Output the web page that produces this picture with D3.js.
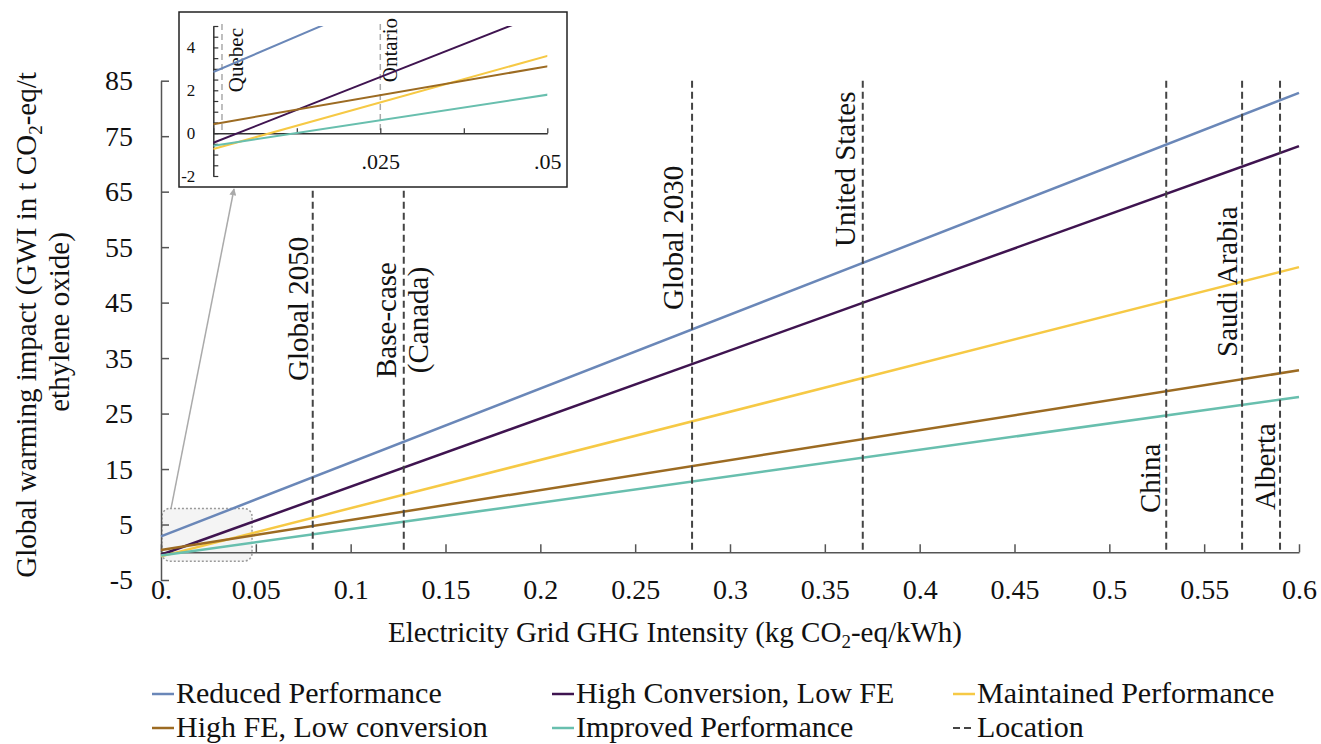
<!DOCTYPE html>
<html>
<head>
<meta charset="utf-8">
<script src="https://cdn.jsdelivr.net/npm/d3@7"></script>
<style>
  html, body { margin: 0; padding: 0; background: #fff; }
  svg { display: block; }
  text { font-family: "Liberation Serif", "Times New Roman", serif; fill: #111; }
</style>
</head>
<body>
<svg id="chart" width="1321" height="744"></svg>
<script>
// ---------------- DATA ----------------
const gridIntensity = [0, 0.6];                 // kg CO2-eq/kWh (line endpoints)
const seriesNames = ["Reduced Performance", "High Conversion, Low FE", "Maintained Performance",
                     "High FE, Low conversion", "Improved Performance"];
const reducedPerformance   = [2.85, 82.8];
const highConvLowFE        = [-0.45, 73.2];
const maintainedPerformance= [-0.74, 51.4];
const highFELowConversion  = [0.42, 32.8];
const improvedPerformance  = [-0.59, 28.0];
const seriesValues = [reducedPerformance, highConvLowFE, maintainedPerformance, highFELowConversion, improvedPerformance];

const locationNames = ["Global 2050", "Base-case (Canada)", "Global 2030", "United States", "China", "Saudi Arabia", "Alberta"];
const locationIntensity = [0.08, 0.128, 0.28, 0.37, 0.53, 0.57, 0.59];
const insetLocationNames = ["Quebec", "Ontario"];
const insetLocationIntensity = [0.0013, 0.025];

const xTicks = [0, 0.05, 0.1, 0.15, 0.2, 0.25, 0.3, 0.35, 0.4, 0.45, 0.5, 0.55, 0.6];
const xTickLabels = ["0.", "0.05", "0.1", "0.15", "0.2", "0.25", "0.3", "0.35", "0.4", "0.45", "0.5", "0.55", "0.6"];
const yTicks = [-5, 5, 15, 25, 35, 45, 55, 65, 75, 85];
const yTickLabels = ["-5", "5", "15", "25", "35", "45", "55", "65", "75", "85"];
const insetXTicks = [0, 0.0125, 0.025, 0.0375, 0.05];
const insetXTickLabels = ["", "", ".025", "", ".05"];
const insetYTicks = [-2, -1.5, -1, -0.5, 0, 0.5, 1, 1.5, 2, 2.5, 3, 3.5, 4, 4.5, 5];
const insetYLabelled = [-2, 0, 2, 4];

// ---------------- STYLE / LAYOUT ----------------
const colors = ["#6a87b8", "#3f1450", "#f6c945", "#9c6b22", "#68bfae"];
const locColor = "#444";
const svg = d3.select("#chart");

const x = d3.scaleLinear().domain([0, 0.6]).range([161, 1299]);
const y = d3.scaleLinear().domain([-5, 85]).range([580, 80.7]);

// label layout for locations: bottom y (px) of rotated text and baseline offset from line
const locLayout = {
  "Global 2050":   { bottom: 381, dx: -5 },
  "Global 2030":   { bottom: 310, dx: -9 },
  "United States": { bottom: 247, dx: -8 },
  "China":         { bottom: 513, dx: -6 },
  "Saudi Arabia":  { bottom: 357, dx: -5 },
  "Alberta":       { bottom: 510, dx: -5 }
};

// ---------------- ZOOM RECT ----------------
svg.append("rect")
  .attr("x", x(0.0005)).attr("y", y(7.9))
  .attr("width", x(0.048) - x(0.0005)).attr("height", y(-1.6) - y(7.9))
  .attr("rx", 8).attr("ry", 8)
  .attr("fill", "#ececec").attr("fill-opacity", 0.6)
  .attr("stroke", "#9a9a9a").attr("stroke-width", 1.5).attr("stroke-dasharray", "2,2");

// ---------------- AXES ----------------
const xAxis = d3.axisBottom(x).tickValues(xTicks).tickFormat((d, i) => xTickLabels[i])
  .tickSizeInner(-8).tickSizeOuter(0).tickPadding(27);
const gx = svg.append("g").attr("transform", `translate(0,${y(0)})`).call(xAxis);
const yAxis = d3.axisLeft(y).tickValues(yTicks).tickFormat((d, i) => yTickLabels[i])
  .tickSizeInner(-8).tickSizeOuter(0).tickPadding(28);
const gy = svg.append("g").attr("transform", `translate(${x(0)},0)`).call(yAxis);
[gx, gy].forEach(g => {
  g.select(".domain").attr("stroke", "#555").attr("stroke-width", 1.5);
  g.selectAll(".tick line").attr("stroke", "#555").attr("stroke-width", 1.5);
  g.selectAll(".tick text").attr("font-family", "Liberation Serif").attr("font-size", 28).attr("fill", "#111");
});

// ---------------- LINES ----------------
const line = d3.line().x(d => x(d[0])).y(d => y(d[1]));
seriesValues.forEach((vals, i) => {
  svg.append("path")
    .datum(gridIntensity.map((g, j) => [g, vals[j]]))
    .attr("d", line).attr("fill", "none")
    .attr("stroke", colors[i]).attr("stroke-width", 2.5);
});

// ---------------- LOCATION LINES ----------------
locationIntensity.forEach((v, i) => {
  svg.append("line")
    .attr("x1", x(v)).attr("x2", x(v)).attr("y1", y(85)).attr("y2", y(0))
    .attr("stroke", locColor).attr("stroke-width", 2).attr("stroke-dasharray", "7,4");
  const name = locationNames[i];
  if (name === "Base-case (Canada)") {
    svg.append("text").attr("font-size", 29).attr("text-anchor", "middle")
      .attr("transform", `translate(${x(v) - 8},320) rotate(-90)`).text("Base-case");
    svg.append("text").attr("font-size", 29).attr("text-anchor", "middle")
      .attr("transform", `translate(${x(v) + 24},320) rotate(-90)`).text("(Canada)");
  } else {
    const L = locLayout[name];
    svg.append("text").attr("font-size", 29).attr("text-anchor", "start")
      .attr("transform", `translate(${x(v) + L.dx},${L.bottom}) rotate(-90)`).text(name);
  }
});

// ---------------- AXIS TITLES ----------------
const yt1 = svg.append("text").attr("font-size", 29).attr("text-anchor", "middle")
  .attr("transform", "translate(36,325) rotate(-90)");
yt1.append("tspan").text("Global warming impact (GWI in t CO");
yt1.append("tspan").attr("font-size", 19).attr("dy", 6).text("2");
yt1.append("tspan").attr("dy", -6).text("-eq/t");
svg.append("text").attr("font-size", 29).attr("text-anchor", "middle")
  .attr("transform", "translate(69,322) rotate(-90)").text("ethylene oxide)");

const xt = svg.append("text").attr("font-size", 29).attr("text-anchor", "middle")
  .attr("x", 675).attr("y", 642);
xt.append("tspan").text("Electricity Grid GHG Intensity (kg CO");
xt.append("tspan").attr("font-size", 19).attr("dy", 6).text("2");
xt.append("tspan").attr("dy", -6).text("-eq/kWh)");

// ---------------- LEGEND ----------------
const legendItems = seriesNames.map((n, i) => ({ name: n, color: colors[i], dash: null }))
  .concat([{ name: "Location", color: locColor, dash: "7,4" }]);
const colX = [152, 552, 953], rowY = [703, 737];
legendItems.forEach((it, i) => {
  const cx = colX[i % 3], cy = rowY[Math.floor(i / 3)];
  svg.append("line").attr("x1", cx).attr("x2", cx + 22).attr("y1", cy - 9).attr("y2", cy - 9)
    .attr("stroke", it.color).attr("stroke-width", it.dash ? 2 : 2.5)
    .attr("stroke-dasharray", it.dash);
  svg.append("text").attr("font-size", 30).attr("x", cx + 24).attr("y", cy).text(it.name);
});

// ---------------- INSET ----------------
const box = { x0: 179, y0: 12, x1: 567, y1: 187 };
const ix = d3.scaleLinear().domain([0, 0.05]).range([213.3, 547.3]);
const iy = d3.scaleLinear().domain([-2, 5]).range([176, 26]);
const inset = svg.append("g");
inset.append("rect").attr("x", box.x0).attr("y", box.y0)
  .attr("width", box.x1 - box.x0).attr("height", box.y1 - box.y0)
  .attr("fill", "#fff").attr("stroke", "#222").attr("stroke-width", 1.5);

inset.append("clipPath").attr("id", "insetClip").append("rect")
  .attr("x", ix(0)).attr("y", iy(5)).attr("width", ix(0.05) - ix(0)).attr("height", iy(-2) - iy(5));

// inset location lines
insetLocationIntensity.forEach((v, i) => {
  inset.append("line").attr("x1", ix(v)).attr("x2", ix(v)).attr("y1", iy(5) - 2).attr("y2", iy(0))
    .attr("stroke", "#aaa").attr("stroke-width", 1.5).attr("stroke-dasharray", "6,4");
});
const insetLabelLayout = { "Quebec": { top: 28, dx: 21 }, "Ontario": { top: 18, dx: 17 } };
insetLocationNames.forEach((n, i) => {
  const L = insetLabelLayout[n];
  inset.append("text").attr("font-size", 21).attr("text-anchor", "end")
    .attr("transform", `translate(${ix(insetLocationIntensity[i]) + L.dx},${L.top}) rotate(-90)`).text(n);
});

const iAxX = d3.axisBottom(ix).tickValues(insetXTicks).tickFormat((d, i) => insetXTickLabels[i])
  .tickSizeInner(-5).tickSizeOuter(0).tickPadding(20);
const igx = inset.append("g").attr("transform", `translate(0,${iy(0)})`).call(iAxX);
const iAxY = d3.axisLeft(iy).tickValues(insetYTicks)
  .tickFormat(d => insetYLabelled.includes(d) ? String(d) : "")
  .tickSizeInner(-5).tickSizeOuter(0).tickPadding(18);
const igy = inset.append("g").attr("transform", `translate(${ix(0)},0)`).call(iAxY);
[igx, igy].forEach(g => {
  g.select(".domain").attr("stroke", "#333").attr("stroke-width", 1.5);
  g.selectAll(".tick line").attr("stroke", "#333").attr("stroke-width", 1.2);
  g.selectAll(".tick text").attr("font-family", "Liberation Serif").attr("fill", "#111");
});
igx.selectAll(".tick text").attr("font-size", 22);
igy.selectAll(".tick text").attr("font-size", 17);

const iline = d3.line().x(d => ix(d[0])).y(d => iy(d[1]));
const ilines = inset.append("g").attr("clip-path", "url(#insetClip)");
seriesValues.forEach((vals, i) => {
  ilines.append("path")
    .datum(gridIntensity.map((g, j) => [g, vals[j]]))
    .attr("d", iline).attr("fill", "none")
    .attr("stroke", colors[i]).attr("stroke-width", 2);
});

// ---------------- ARROW ----------------
const defs = svg.append("defs");
defs.append("marker").attr("id", "arrowHead").attr("viewBox", "0 0 10 10")
  .attr("refX", 9).attr("refY", 5).attr("markerWidth", 7).attr("markerHeight", 7)
  .attr("orient", "auto").attr("markerUnits", "userSpaceOnUse")
  .append("path").attr("d", "M0,0 L10,5 L0,10 Z").attr("fill", "#aaa");
svg.append("line")
  .attr("x1", x(0.0053)).attr("y1", y(7.9))
  .attr("x2", ix(0.0031)).attr("y2", box.y1 + 2)
  .attr("stroke", "#aaa").attr("stroke-width", 1.5)
  .attr("marker-end", "url(#arrowHead)");
</script>
</body>
</html>
